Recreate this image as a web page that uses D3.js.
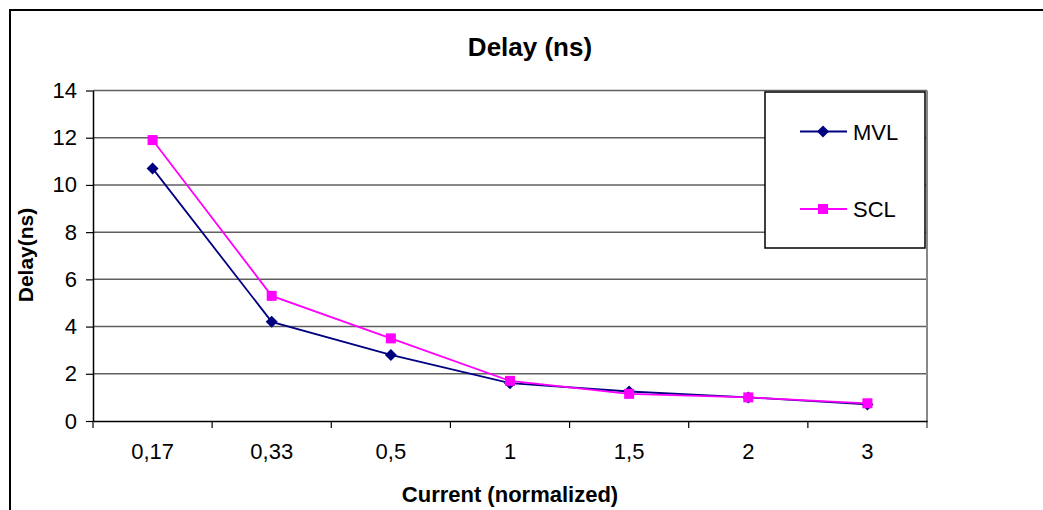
<!DOCTYPE html>
<html>
<head>
<meta charset="utf-8">
<script src="https://cdn.jsdelivr.net/npm/d3@7"></script>
<style>
  html, body { margin: 0; padding: 0; background: #fff; }
  svg { display: block; font-family: "Liberation Sans", Arial, sans-serif; }
</style>
</head>
<body>
<svg id="chart" width="1043" height="510"></svg>
<script>
// Normalized current settings (x categories)
const categories = ["0,17", "0,33", "0,5", "1", "1,5", "2", "3"];
// Delay in ns for each logic style
const mvlDelay = [10.7, 4.2, 2.8, 1.6, 1.25, 1.0, 0.7];
const sclDelay = [11.9, 5.3, 3.5, 1.7, 1.15, 1.0, 0.75];
const yTicks = [0, 2, 4, 6, 8, 10, 12, 14];

// Diamonds are squares turned 45 degrees
const series = [
  { name: "MVL", values: mvlDelay, color: "#000080", size: 72, angle: 45 },
  { name: "SCL", values: sclDelay, color: "#ff00ff", size: 100, angle: 0 }
];

const svg = d3.select("#chart");
const plot = { left: 93, right: 927, top: 90.5, bottom: 421 };

const x = d3.scaleBand().domain(categories).range([plot.left, plot.right]).padding(0);
const y = d3.scaleLinear().domain([0, 14]).range([plot.bottom, plot.top]);

// Chart frame
svg.append("path")
  .attr("d", "M10,510V10H1043")
  .attr("fill", "none").attr("stroke", "#000").attr("stroke-width", 2);

// Horizontal gridlines
svg.append("g").selectAll("line")
  .data(yTicks.filter(d => d > 0))
  .join("line")
  .attr("x1", plot.left).attr("x2", plot.right)
  .attr("y1", d => y(d)).attr("y2", d => y(d))
  .attr("stroke", "#606060").attr("stroke-width", 1.5);

// Right edge of plot area
svg.append("line")
  .attr("x1", plot.right).attr("x2", plot.right)
  .attr("y1", plot.top).attr("y2", plot.bottom + 7)
  .attr("stroke", "#888").attr("stroke-width", 2);

// Y axis
const yAxis = svg.append("g")
  .attr("transform", `translate(${plot.left},0)`)
  .call(d3.axisLeft(y).tickValues(yTicks).tickSize(7).tickSizeOuter(0).tickPadding(9));
yAxis.select(".domain").attr("stroke", "#000").attr("stroke-width", 1.5);
yAxis.selectAll(".tick line").attr("stroke", "#000").attr("stroke-width", 1.2);
yAxis.selectAll("text")
  .attr("font-size", 22).attr("fill", "#000")
  .attr("font-family", "Liberation Sans, Arial, sans-serif");

// X axis with ticks on band boundaries
const xAxis = svg.append("g")
  .attr("transform", `translate(0,${plot.bottom})`)
  .call(d3.axisBottom(x).tickSize(0).tickSizeOuter(0).tickPadding(22));
xAxis.select(".domain").attr("stroke", "#000").attr("stroke-width", 1.5);
xAxis.selectAll("text")
  .attr("font-size", 22).attr("fill", "#000")
  .attr("font-family", "Liberation Sans, Arial, sans-serif");
xAxis.selectAll(".boundary")
  .data(categories)
  .join("line")
  .attr("class", "boundary")
  .attr("x1", d => x(d)).attr("x2", d => x(d))
  .attr("y1", 0).attr("y2", 7)
  .attr("stroke", "#000").attr("stroke-width", 1.2);

// Series lines and markers
const cx = d => x(d) + x.bandwidth() / 2;
series.forEach(s => {
  const pts = categories.map((c, i) => [cx(c), y(s.values[i])]);
  svg.append("path")
    .attr("d", d3.line()(pts))
    .attr("fill", "none").attr("stroke", s.color).attr("stroke-width", 1.8);
  svg.append("g").selectAll("path")
    .data(pts)
    .join("path")
    .attr("transform", d => `translate(${d[0]},${d[1]}) rotate(${s.angle})`)
    .attr("d", d3.symbol().type(d3.symbolSquare).size(s.size))
    .attr("fill", s.color);
});

// Title and axis titles
svg.append("text")
  .attr("x", 530).attr("y", 56)
  .attr("text-anchor", "middle")
  .attr("font-size", 26).attr("font-weight", "bold")
  .text("Delay (ns)");

svg.append("text")
  .attr("x", (plot.left + plot.right) / 2).attr("y", 502)
  .attr("text-anchor", "middle")
  .attr("font-size", 22).attr("font-weight", "bold")
  .text("Current (normalized)");

svg.append("text")
  .attr("transform", "translate(33,255) rotate(-90)")
  .attr("text-anchor", "middle")
  .attr("font-size", 21).attr("font-weight", "bold")
  .text("Delay(ns)");

// Legend
const legend = svg.append("g");
legend.append("rect")
  .attr("x", 765).attr("y", 92).attr("width", 160).attr("height", 156)
  .attr("fill", "#fff").attr("stroke", "#000").attr("stroke-width", 1.5);
const legendRows = [131.5, 209];
series.forEach((s, i) => {
  const g = legend.append("g").attr("transform", `translate(0,${legendRows[i]})`);
  g.append("line")
    .attr("x1", 800).attr("x2", 847).attr("y1", 0).attr("y2", 0)
    .attr("stroke", s.color).attr("stroke-width", 1.8);
  g.append("path")
    .attr("transform", `translate(823,0) rotate(${s.angle})`)
    .attr("d", d3.symbol().type(d3.symbolSquare).size(s.size))
    .attr("fill", s.color);
  g.append("text")
    .attr("x", 853).attr("y", 8)
    .attr("font-size", 22)
    .text(s.name);
});
</script>
</body>
</html>
